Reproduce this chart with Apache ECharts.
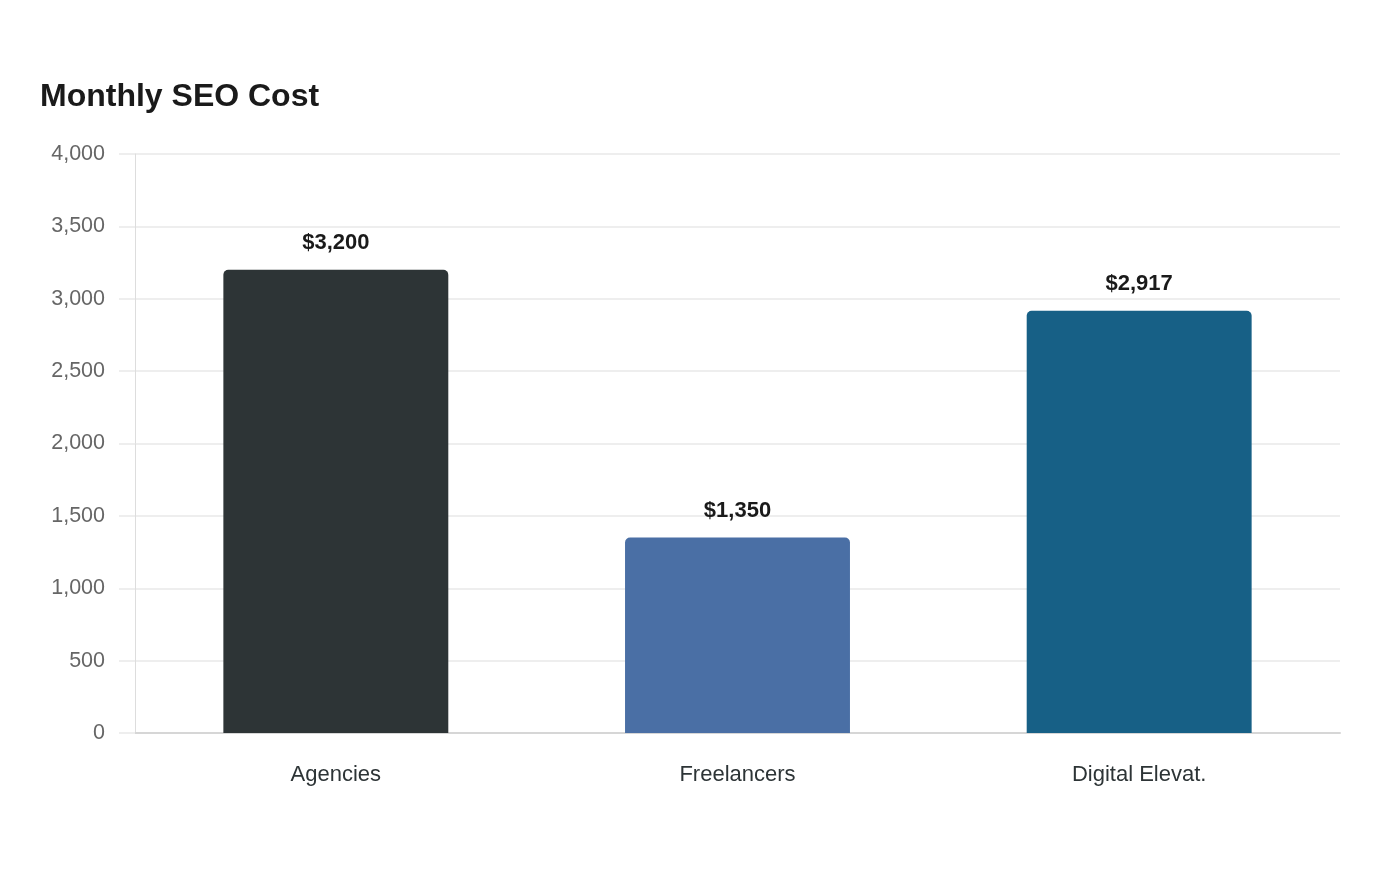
<!DOCTYPE html>
<html><head><meta charset="utf-8">
<script src="https://cdn.jsdelivr.net/npm/echarts@6/dist/echarts.min.js"></script>
<style>html,body{margin:0;padding:0;background:#fff}#c{width:1400px;height:880px}</style>
</head><body><div id="c"></div>
<script>
const categories = ["Agencies", "Freelancers", "Digital Elevat."];
const values = [3200, 1350, 2917];
const colors = ["#2d3436", "#4a6fa5", "#176086"];
const yTicks = [0, 500, 1000, 1500, 2000, 2500, 3000, 3500, 4000];

const chart = echarts.init(document.getElementById('c'));
chart.setOption({
  animation: false,
  title: {
    text: 'Monthly SEO Cost', left: 35, top: 76,
    textStyle: { fontFamily: 'Liberation Sans, Arial, sans-serif', fontSize: 32, fontWeight: 'bold', color: '#1a1a1a' }
  },
  grid: { left: 135, right: 60, top: 154, bottom: 147, containLabel: false },
  xAxis: {
    type: 'category', data: categories,
    axisLine: { lineStyle: { color: '#d6d6d6', width: 2 } },
    axisTick: { show: false },
    axisLabel: { fontFamily: 'Liberation Sans, Arial, sans-serif', fontSize: 22, color: '#2d3436', margin: 31 }
  },
  yAxis: {
    type: 'value', min: yTicks[0], max: yTicks[yTicks.length - 1], interval: 500,
    axisLine: { show: true, lineStyle: { color: '#dddddd', width: 1 } },
    axisTick: { show: true, length: 16, lineStyle: { color: '#eeeeee', width: 2 } },
    splitLine: { lineStyle: { color: '#eeeeee', width: 2 } },
    axisLabel: {
      fontFamily: 'Liberation Sans, Arial, sans-serif', fontSize: 21.5, color: '#666666', margin: 30,
      padding: [2, 0, 0, 0],
      formatter: v => v.toLocaleString('en-US')
    }
  },
  series: [{
    type: 'bar', barWidth: '56%',
    data: values.map((v, i) => ({ value: v, itemStyle: { color: colors[i], borderRadius: [5, 5, 0, 0] } })),
    label: {
      show: true, position: 'top', distance: 16,
      fontFamily: 'Liberation Sans, Arial, sans-serif', fontSize: 22, fontWeight: 'bold', color: '#1a1a1a',
      formatter: p => '$' + p.value.toLocaleString('en-US')
    }
  }]
});
</script></body></html>
